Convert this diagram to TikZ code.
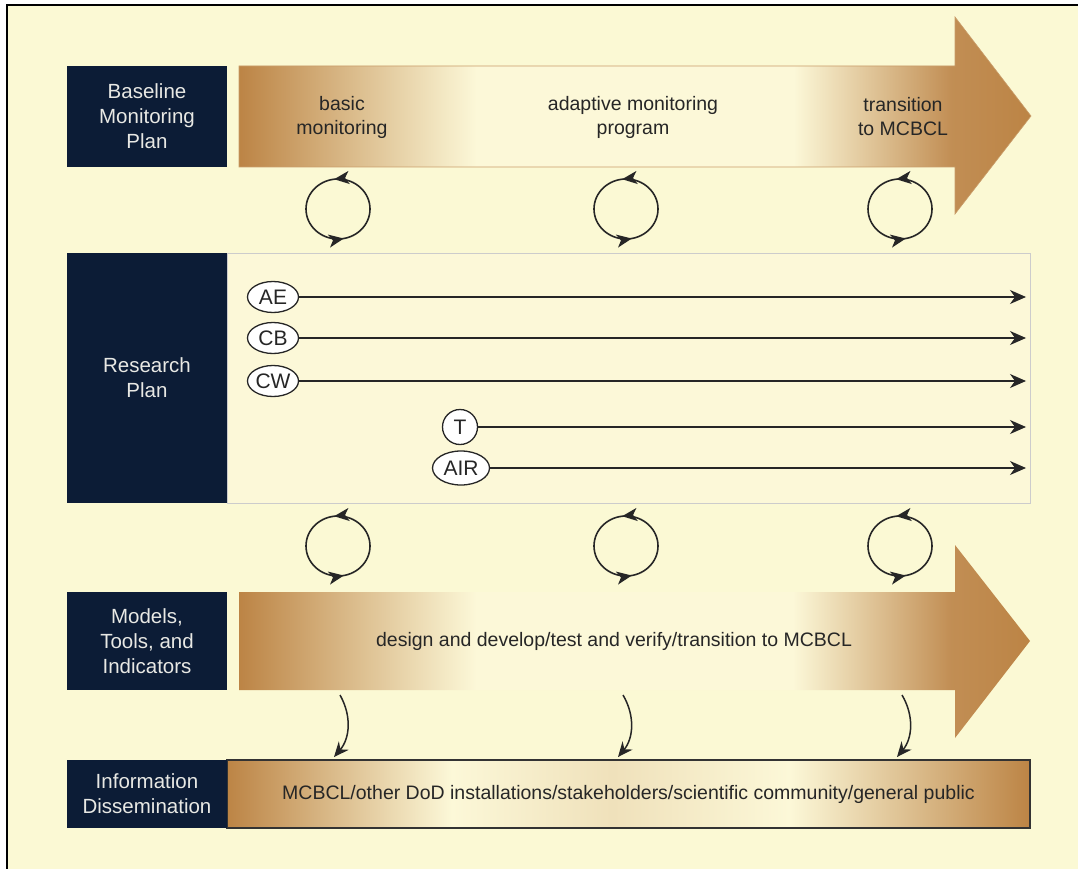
\documentclass[tikz,border=0pt]{standalone}
\usepackage{fontspec}
\setmainfont{Liberation Sans}
\usetikzlibrary{arrows.meta,decorations.markings,shapes.geometric}
\definecolor{paper}{HTML}{FBF9D4}
\definecolor{navy}{HTML}{0C1C36}
\definecolor{bronze}{HTML}{BC8445}
\definecolor{cream}{HTML}{FCF8D8}
\definecolor{ghost}{HTML}{E8E8E4}
\definecolor{ink}{HTML}{262626}
% fades run over the inner 25bp..75bp of the box
\pgfdeclarehorizontalshading{bandfade}{100bp}{color(0bp)=(bronze); color(25bp)=(bronze); color(40bp)=(cream); color(60bp)=(cream); color(70bp)=(bronze!92); color(75bp)=(bronze); color(100bp)=(bronze)}
\pgfdeclarehorizontalshading{barfade}{100bp}{color(0bp)=(bronze); color(25bp)=(bronze); color(39bp)=(cream); color(49bp)=(cream!80!bronze); color(60bp)=(cream); color(75bp)=(bronze); color(100bp)=(bronze)}
\begin{document}
\begin{tikzpicture}[x=1pt,y=-1pt]
	% sizes of the row boxes
	\def\sz{160pt}
	\def\szwidth{803pt}
	\def\boxx{147}
	% node style definition
	\tikzstyle{panel} = [fill=navy, text=ghost, rectangle, align=center, inner sep=0pt, minimum width=\sz, font=\fontsize{20.5}{25}\selectfont];
	\tikzstyle{caption} = [align=center, text=ink, font=\fontsize{19.5}{24}\selectfont];
	\tikzstyle{tag} = [draw=ink, ellipse, fill=white, line width=1.3pt, inner sep=0pt, text=ink, font=\fontsize{21}{21}\selectfont];
	\tikzstyle{track} = [draw=ink, line width=1.3pt, -{Stealth[length=16pt,width=14pt,inset=5pt]}];
	\tikzstyle{drop} = [draw=ink, line width=1.5pt, -{Stealth[length=15pt,width=13pt,inset=5pt]}];
	\tikzstyle{swirl} = [draw=ink, line width=1.6pt, postaction={decorate}, decoration={markings,
		mark=at position 0.27 with {\arrow{Stealth[length=15pt,width=13pt,inset=4pt]}},
		mark=at position 0.78 with {\arrow{Stealth[length=15pt,width=13pt,inset=4pt]}}}];
	\tikzstyle{band} = [shading=bandfade, draw=bronze!80, line width=0.6pt];
	% page and frame
	\useasboundingbox (0,0) rectangle (1078,869);
	\fill[paper] (7,5) rectangle (1078,869);
	\draw[line width=2pt] (7,869) -- (7,5) -- (1078,5);
	% baseline row
	\shade[band] (239,66) -- (955,66) -- (955,17) -- (1031,116) -- (955,214) -- (955,167) -- (239,167) -- cycle;
	\node[panel, minimum height=101pt] (base) at (\boxx,116.5) {Baseline\\Monitoring\\Plan};
	\node[caption] (basic) at (342,117) {basic\\monitoring};
	\node[caption] (adapt) at (633,117) {adaptive monitoring\\program};
	\node[caption] (trans) at (903,117) {transition\\to MCBCL};
	% research row
	\node[draw=black!20, fill=cream, inner sep=0pt, minimum width=\szwidth, minimum height=250pt] (field) at (628.5,378) {};
	\node[panel, minimum height=250pt] (research) at (\boxx,378) {Research\\Plan};
	\foreach \tg/\lbl/\x/\y/\w/\h in {ae/AE/273/297/51/31, cb/CB/273/338/51/31, cw/CW/273/381/51/31, t/T/460/427/35/35, air/AIR/461/468/57/34} {
		\node[tag, minimum width=\w pt, minimum height=\h pt] (\tg) at (\x,\y) {\lbl};
		\coordinate (\tg end) at (1026,\y);
		\draw[track] (\tg) -- (\tg end);
	}
	% feedback loops
	\foreach \cx in {338,626,900} {
		\foreach \cy in {209,546} {
			\draw[swirl] (\cx,\cy) ellipse[x radius=32pt, y radius=30pt];
		}
	}
	% models row
	\shade[band, draw=none] (239,592) -- (955,592) -- (955,545) -- (1030,641) -- (955,738) -- (955,690) -- (239,690) -- cycle;
	\node[panel, minimum height=98pt] (models) at (\boxx,641) {Models,\\Tools, and\\Indicators};
	\node[caption] (design) at (614,641) {design and develop/test and verify/transition to MCBCL};
	% dissemination row
	\node[draw=black!80, line width=1.2pt, shading=barfade, inner sep=0pt, minimum width=\szwidth, minimum height=68pt, text=ink, font=\fontsize{19.5}{19.5}\selectfont] (dissem) at (628.5,794) {MCBCL/other DoD installations/stakeholders/scientific community/general public};
	\node[panel, minimum height=68pt] (info) at (\boxx,794) {Information\\Dissemination};
	\foreach \n/\sx/\ex in {a/340/334, b/623/618, c/902/897} {
		\coordinate (from\n) at (\sx,695);
		\coordinate (to\n) at (\ex,757);
		\draw[drop] (from\n) to[bend left=35] (to\n);
	}
\end{tikzpicture}
\end{document}
